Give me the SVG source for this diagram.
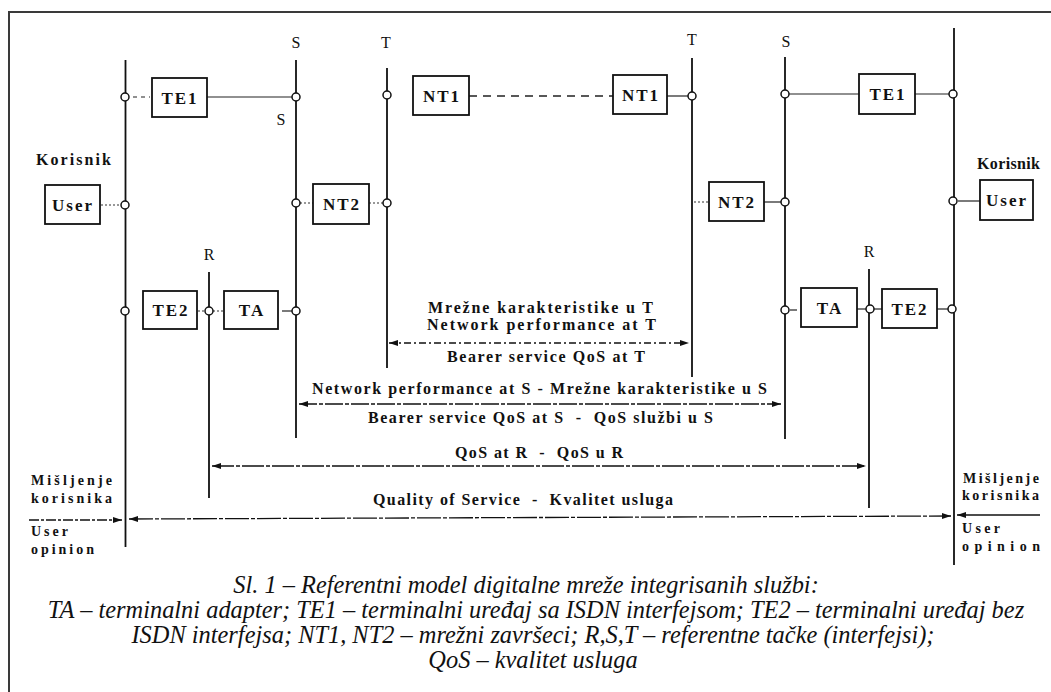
<svg xmlns="http://www.w3.org/2000/svg" width="1051" height="692" viewBox="0 0 1051 692">
<style>
.frame{fill:none;stroke:#3a3a3a;stroke-width:2}
.vl{stroke:#111;stroke-width:1.8;fill:none}
.box{fill:#fff;stroke:#111;stroke-width:1.8}
.pt{fill:#fff;stroke:#111;stroke-width:1.5}
.c{stroke:#222;stroke-width:1.2;fill:none}
.dot{stroke:#333;stroke-width:1.2;fill:none;stroke-dasharray:2 2}
.dash{stroke:#222;stroke-width:1.3;fill:none;stroke-dasharray:8 6}
.ar{stroke:#111;stroke-width:1.3;fill:none}
.bl{font-family:"Liberation Serif","Times New Roman",serif;font-weight:bold;font-size:17px;fill:#111;text-anchor:middle;letter-spacing:2px}
.lb{font-family:"Liberation Serif","Times New Roman",serif;font-weight:bold;font-size:16px;fill:#111}
.sm{font-family:"Liberation Serif","Times New Roman",serif;font-weight:bold;font-size:14px;fill:#111}
.ref{font-family:"Liberation Serif","Times New Roman",serif;font-size:16px;fill:#111;text-anchor:middle}
.cap{font-family:"Liberation Serif","Times New Roman",serif;font-style:italic;font-size:24.4px;fill:#111;text-anchor:middle}
</style>
<defs>
<marker id="ah" markerUnits="userSpaceOnUse" markerWidth="10" markerHeight="7" refX="9" refY="3" orient="auto-start-reverse">
<path d="M0,0 L9,3 L0,6 z" fill="#111"/>
</marker>
</defs>
<rect x="0" y="0" width="1051" height="692" fill="#fff"/>
<rect class="frame" x="9" y="12" width="1100" height="720"/>

<g id="reference-lines">
<line class="vl" x1="125.5" y1="60" x2="125.5" y2="547"/>
<line class="vl" x1="296" y1="60" x2="296" y2="438"/>
<line class="vl" x1="387" y1="68" x2="387" y2="368"/>
<line class="vl" x1="209" y1="272" x2="209" y2="498"/>
<line class="vl" x1="692" y1="58" x2="692" y2="377"/>
<line class="vl" x1="785" y1="57" x2="785" y2="439"/>
<line class="vl" x1="869" y1="269" x2="869" y2="508"/>
<line class="vl" x1="954" y1="28" x2="954" y2="565"/>
<text class="ref" x="296" y="48">S</text>
<text class="ref" x="386" y="48">T</text>
<text class="ref" x="281" y="125">S</text>
<text class="ref" x="692" y="45">T</text>
<text class="ref" x="786" y="47">S</text>
<text class="ref" x="209" y="260">R</text>
<text class="ref" x="869" y="257">R</text>
</g>

<g id="connectors">
<line class="c" x1="133" y1="97" x2="150" y2="97" style="stroke-dasharray:4 4"/>
<line class="c" x1="207" y1="97" x2="292" y2="97"/>
<line class="dash" x1="469" y1="96" x2="613" y2="96"/>
<line class="c" x1="667" y1="96" x2="688" y2="96"/>
<line class="c" x1="789" y1="94" x2="859" y2="94"/>
<line class="c" x1="915" y1="94" x2="950" y2="94"/>
<line class="dot" x1="101" y1="205" x2="121" y2="205"/>
<line class="dot" x1="300" y1="203" x2="313" y2="203"/>
<line class="dot" x1="369" y1="203" x2="383" y2="203"/>
<line class="dot" x1="694" y1="202" x2="709" y2="202"/>
<line class="c" x1="764" y1="202" x2="781" y2="202"/>
<line class="c" x1="958" y1="201" x2="980" y2="201"/>
<line class="dot" x1="198" y1="311" x2="205" y2="311"/>
<line class="dot" x1="213" y1="311" x2="224" y2="311"/>
<line class="c" x1="282" y1="311" x2="292" y2="311"/>
<line class="c" x1="790" y1="310" x2="797" y2="310"/>
<line class="c" x1="857" y1="309" x2="866" y2="309"/>
<line class="c" x1="874" y1="309" x2="882" y2="309"/>
<line class="c" x1="937" y1="309" x2="948" y2="309"/>

<line class="ar" x1="389" y1="343" x2="689" y2="343" marker-start="url(#ah)" marker-end="url(#ah)" style="stroke-dasharray:7 3 2 3"/>
<line class="ar" x1="299" y1="404" x2="781" y2="404" marker-start="url(#ah)" marker-end="url(#ah)" style="stroke-dasharray:18 2 4 2"/>
<line class="ar" x1="212" y1="466" x2="866" y2="466" marker-start="url(#ah)" marker-end="url(#ah)" style="stroke-dasharray:22 2 4 2"/>
<line class="ar" x1="129" y1="519" x2="951" y2="516" marker-start="url(#ah)" marker-end="url(#ah)" style="stroke-dasharray:24 2 4 2"/>
<line class="ar" x1="29" y1="520" x2="122" y2="520" marker-end="url(#ah)" style="stroke-dasharray:10 2 3 2"/>
<line class="ar" x1="1040" y1="515" x2="957" y2="515" marker-end="url(#ah)"/>

<g class="pt">
<circle cx="125" cy="97" r="4"/>
<circle cx="296" cy="97" r="4"/>
<circle cx="387" cy="95" r="4"/>
<circle cx="692" cy="96" r="4"/>
<circle cx="785" cy="94" r="4"/>
<circle cx="953" cy="94" r="4"/>
<circle cx="125" cy="205" r="4"/>
<circle cx="296" cy="203" r="4"/>
<circle cx="387" cy="203" r="4"/>
<circle cx="785" cy="202" r="4"/>
<circle cx="953" cy="201" r="4"/>
<circle cx="125" cy="311" r="4"/>
<circle cx="209" cy="311" r="4"/>
<circle cx="296" cy="311" r="4"/>
<circle cx="785" cy="310" r="4"/>
<circle cx="870" cy="309" r="4"/>
<circle cx="952" cy="309" r="4"/>
</g>
</g>

<g id="TE1-left"><rect class="box" x="152" y="78" width="55" height="39"/><text class="bl" x="180" y="104">TE1</text></g>
<g id="NT1-left"><rect class="box" x="413" y="76" width="56" height="39"/><text class="bl" x="442" y="102">NT1</text></g>
<g id="NT1-right"><rect class="box" x="613" y="75" width="54" height="39"/><text class="bl" x="641" y="101">NT1</text></g>
<g id="TE1-right"><rect class="box" x="859" y="74" width="56" height="40"/><text class="bl" x="888" y="100">TE1</text></g>
<g id="User-left"><rect class="box" x="45" y="185" width="55" height="39"/><text class="bl" x="73" y="211">User</text></g>
<g id="NT2-left"><rect class="box" x="313" y="184" width="56" height="40"/><text class="bl" x="342" y="210">NT2</text></g>
<g id="NT2-right"><rect class="box" x="709" y="182" width="55" height="39"/><text class="bl" x="737" y="208">NT2</text></g>
<g id="User-right"><rect class="box" x="980" y="180" width="53" height="40"/><text class="bl" x="1007" y="206">User</text></g>
<g id="TE2-left"><rect class="box" x="143" y="291" width="54" height="38"/><text class="bl" x="171" y="316">TE2</text></g>
<g id="TA-left"><rect class="box" x="224" y="291" width="54" height="38"/><text class="bl" x="252" y="316">TA</text></g>
<g id="TA-right"><rect class="box" x="801" y="288" width="56" height="39"/><text class="bl" x="830" y="314">TA</text></g>
<g id="TE2-right"><rect class="box" x="882" y="289" width="55" height="39"/><text class="bl" x="910" y="315">TE2</text></g>

<g id="labels">
<text class="lb" x="36" y="165" textLength="75" lengthAdjust="spacing">Korisnik</text>
<text class="lb" x="977" y="169" textLength="63" lengthAdjust="spacing">Korisnik</text>
<text class="lb" x="428" y="313" textLength="225" lengthAdjust="spacing">Mrežne karakteristike u T</text>
<text class="lb" x="427" y="330" textLength="229" lengthAdjust="spacing">Network performance at T</text>
<text class="lb" x="447" y="362" textLength="198" lengthAdjust="spacing">Bearer service QoS at T</text>
<text class="lb" x="312" y="394" textLength="455" lengthAdjust="spacing">Network performance at S - Mrežne karakteristike u S</text>
<text class="lb" x="368" y="423" textLength="345" lengthAdjust="spacing" xml:space="preserve">Bearer service QoS at S  -  QoS službi u S</text>
<text class="lb" x="455" y="458" textLength="168" lengthAdjust="spacing" xml:space="preserve">QoS at R  -  QoS u R</text>
<text class="lb" x="373" y="505" textLength="300" lengthAdjust="spacing" xml:space="preserve">Quality of Service  -  Kvalitet usluga</text>
<text class="sm" x="31" y="485" textLength="81" lengthAdjust="spacing">Mišljenje</text>
<text class="sm" x="31" y="503" textLength="81" lengthAdjust="spacing">korisnika</text>
<text class="sm" x="31" y="536" textLength="37" lengthAdjust="spacing">User</text>
<text class="sm" x="31" y="554" textLength="63" lengthAdjust="spacing">opinion</text>
<text class="sm" x="963" y="483" textLength="76" lengthAdjust="spacing">Mišljenje</text>
<text class="sm" x="962" y="500" textLength="77" lengthAdjust="spacing">korisnika</text>
<text class="sm" x="962" y="533" textLength="38" lengthAdjust="spacing">User</text>
<text class="sm" x="962" y="551" textLength="78" lengthAdjust="spacing">opinion</text>
</g>

<g id="caption">
<text class="cap" x="526" y="593">Sl. 1 – Referentni model digitalne mreže integrisanih službi:</text>
<text class="cap" x="536" y="618">TA – terminalni adapter; TE1 – terminalni uređaj sa ISDN interfejsom; TE2 – terminalni uređaj bez</text>
<text class="cap" x="533" y="643">ISDN interfejsa; NT1, NT2 – mrežni završeci; R,S,T – referentne tačke (interfejsi);</text>
<text class="cap" x="533" y="668">QoS – kvalitet usluga</text>
</g>
</svg>
